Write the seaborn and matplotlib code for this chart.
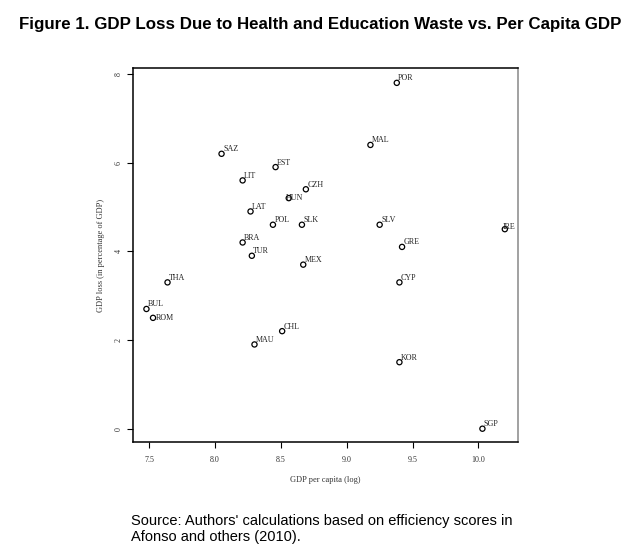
import matplotlib
matplotlib.use("Agg")
import matplotlib.pyplot as plt
import seaborn as sns
import pandas as pd

countries = ["POR", "MAL", "SAZ", "EST", "LIT", "CZH", "HUN", "LAT", "POL", "SLK",
             "SLV", "IRE", "GRE", "BRA", "TUR", "MEX", "THA", "CYP", "BUL", "ROM",
             "CHL", "MAU", "KOR", "SGP"]
gdp_log = [9.38, 9.18, 8.05, 8.46, 8.21, 8.69, 8.56, 8.27, 8.44, 8.66,
           9.25, 10.20, 9.42, 8.21, 8.28, 8.67, 7.64, 9.40, 7.48, 7.53,
           8.51, 8.30, 9.40, 10.03]
gdp_loss = [7.8, 6.4, 6.2, 5.9, 5.6, 5.4, 5.2, 4.9, 4.6, 4.6,
            4.6, 4.5, 4.1, 4.2, 3.9, 3.7, 3.3, 3.3, 2.7, 2.5,
            2.2, 1.9, 1.5, 0.0]
x_ticks = [7.5, 8.0, 8.5, 9.0, 9.5, 10.0]
y_ticks = [0, 2, 4, 6, 8]

df = pd.DataFrame({"country": countries, "x": gdp_log, "y": gdp_loss})

sns.set_style("white")
plt.rcParams["text.color"] = "black"
plt.rcParams["axes.labelcolor"] = "black"
plt.rcParams["xtick.color"] = "black"
plt.rcParams["ytick.color"] = "black"
serif = ["Liberation Serif", "DejaVu Serif"]
sans = ["Liberation Sans", "DejaVu Sans"]

fig = plt.figure(figsize=(6.4, 5.53), dpi=100)
ax = fig.add_axes([133/640, 111/553, (518-133)/640, (485-111)/553])

sns.scatterplot(data=df, x="x", y="y", ax=ax, marker="o", s=14,
                facecolor="none", edgecolor="black", linewidth=0.9, legend=False)

# label offsets in pixels (dx, dy, va)
default_off = (1.5, 2.5, "baseline")
special = {"ROM": (3, 0, "center"), "HUN": (-2.5, 0, "center"), "IRE": (-2, 0.5, "baseline")}
for c, xv, yv in zip(countries, gdp_log, gdp_loss):
    dx, dy, va = special.get(c, default_off)
    ax.annotate(c, (xv, yv), xytext=(dx * 0.72, dy * 0.72), textcoords="offset points",
                ha="left", va=va, fontsize=5.8, family=serif, color="#222222")

ax.set_xlim(7.378, 10.30)
ax.set_ylim(-0.30, 8.135)
ax.set_xticks(x_ticks)
ax.set_xticklabels([f"{v:.1f}" for v in x_ticks], family=serif, fontsize=5.8, color="#333333")
ax.set_yticks(y_ticks)
ax.set_yticklabels([str(v) for v in y_ticks], family=serif, fontsize=5.8,
                   rotation=90, va="center", color="#333333")
ax.tick_params(axis="both", direction="out", length=4, width=0.8, color="black",
               left=True, bottom=True)
ax.tick_params(axis="x", pad=6)
ax.tick_params(axis="y", pad=3.5)
for s in ["left", "bottom", "top"]:
    ax.spines[s].set_color("black")
    ax.spines[s].set_linewidth(1.1)
ax.spines["right"].set_color("#888888")
ax.spines["right"].set_linewidth(1.1)

ax.set_xlabel("GDP per capita (log)", family=serif, fontsize=6, labelpad=9, color="#333333")
ax.set_ylabel("GDP loss (in percentage of GDP)", family=serif, fontsize=6, labelpad=7, color="#333333")

fig.text(320/640, 1 - 25/553, "Figure 1. GDP Loss Due to Health and Education Waste vs. Per Capita GDP",
         ha="center", va="center", fontsize=12.2, fontweight="bold", family=sans)
fig.text(131/640, 1 - 525/553, "Source: Authors' calculations based on efficiency scores in",
         ha="left", va="baseline", fontsize=10.5, family=sans)
fig.text(131/640, 1 - 541/553, "Afonso and others (2010).",
         ha="left", va="baseline", fontsize=10.5, family=sans)

fig.savefig("out.png", dpi=100)
